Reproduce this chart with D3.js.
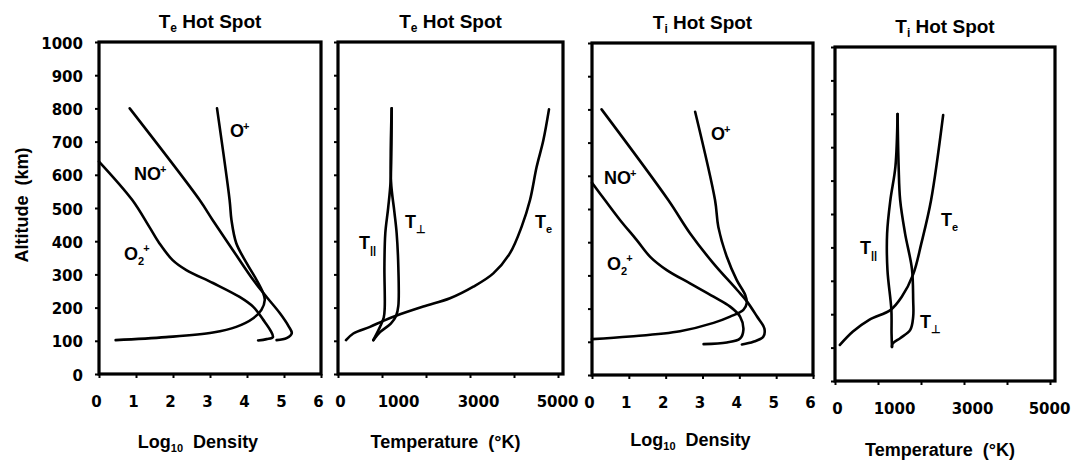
<!DOCTYPE html>
<html>
<head>
<meta charset="utf-8">
<script src="https://cdn.jsdelivr.net/npm/d3@7"></script>
<style>
  html, body { margin: 0; padding: 0; background: #fff; }
  svg { display: block; }
  text { fill: #000; }
</style>
</head>
<body>
<svg id="chart" width="1075" height="463"></svg>
<script>
// ---------------- DATA ----------------
const altTicks = [0, 100, 200, 300, 400, 500, 600, 700, 800, 900, 1000];
const densTicks = [0, 1, 2, 3, 4, 5, 6];
const tempTicks = [0, 1000, 2000, 3000, 4000, 5000];
const tempLabels = [0, 1000, 3000, 5000];

// Te hot spot: log10 density vs altitude (km)
const teNOp  = [[0.83,800],[2.72,524],[3.07,464],[3.62,373],[4.17,283],[4.53,232],[4.89,183],[5.13,143],[5.21,123],[5.07,108],[4.8,102]];
const teOp   = [[3.19,800],[3.53,524],[3.58,464],[3.71,394],[3.99,334],[4.26,283],[4.44,243],[4.48,223],[4.39,193],[4.17,168],[3.71,142],[3.08,125],[1.81,111],[0.45,102]];
const teO2p  = [[0,640],[0.9,524],[1.36,443],[1.63,394],[1.99,343],[2.36,313],[3.08,274],[3.8,232],[4.17,202],[4.44,163],[4.64,130],[4.7,111],[4.53,105],[4.3,101]];

// Te hot spot: temperatures (K) vs altitude (km)
const teTe   = [[182,102],[348,122],[727,142],[1030,160],[1333,176],[1939,203],[2545,228],[3076,263],[3530,303],[3909,364],[4174,444],[4364,524],[4515,624],[4667,704],[4795,797]];
const tePar  = [[1220,800],[1195,580],[1140,500],[1075,424],[1055,323],[1062,200],[1040,170],[955,142],[803,102]];
const tePerp = [[1220,800],[1205,580],[1280,490],[1333,424],[1371,323],[1371,205],[1320,175],[1200,152],[955,126],[803,102]];

// Ti hot spot: log10 density vs altitude (km)
const tiNOp  = [[0.26,800],[2.07,527],[2.66,427],[3.29,337],[3.94,256],[4.21,221],[4.48,176],[4.68,140],[4.65,115],[4.38,100],[4.07,92]];
const tiOp   = [[2.8,793],[3.34,527],[3.43,446],[3.66,356],[3.93,286],[4.16,241],[4.2,216],[4.11,196],[3.75,176],[3.3,157],[2.39,132],[1.03,116],[0,108]];
const tiO2p  = [[0,579],[0.35,527],[0.76,467],[1.21,407],[1.58,356],[2.03,316],[2.66,276],[3.3,236],[3.75,206],[4.02,176],[4.11,136],[4.02,110],[3.66,98],[3.03,93]];

// Ti hot spot: temperatures (K) vs altitude (km)
const tiTe   = [[2515,796],[2235,542],[2008,412],[1820,320],[1553,252],[1295,213],[795,183],[417,148],[114,108]];
const tiPar  = [[1455,799],[1405,642],[1288,542],[1212,442],[1220,332],[1311,213],[1315,143],[1325,102]];
const tiPerp = [[1455,799],[1480,642],[1515,542],[1629,442],[1790,335],[1818,243],[1818,192],[1750,153],[1523,129],[1341,112],[1325,102]];

// ---------------- LAYOUT ----------------
const svg = d3.select("#chart");
const FONT = "'DejaVu Sans', sans-serif";
const FONT2 = "'Liberation Sans', Arial, sans-serif";

const panels = [
  {x0: 99,  x1: 321,  y0: 42, y1: 374, kind: "dens", title: ["T","e"], labels: true,
   series: [
     {d: teNOp, lab: [{t:"NO",sup:"+"}], lx: 134, ly: 180},
     {d: teOp,  lab: [{t:"O",sup:"+"}],  lx: 230, ly: 137},
     {d: teO2p, lab: [{t:"O",sub:"2",sup:"+"}], lx: 124, ly: 260}
   ], xtitleY: 448},
  {x0: 338, x1: 563,  y0: 42, y1: 374, kind: "temp", title: ["T","e"],
   series: [
     {d: teTe,   lab: [{t:"T",sub:"e"}], lx: 535, ly: 228},
     {d: tePar,  lab: [{t:"T",sub:"||"}], lx: 359, ly: 249},
     {d: tePerp, lab: [{t:"T",sub:"\u22A5"}], lx: 405, ly: 228}
   ], xtitleY: 448},
  {x0: 592, x1: 813,  y0: 43, y1: 375, kind: "dens", title: ["T","i"],
   series: [
     {d: tiNOp, lab: [{t:"NO",sup:"+"}], lx: 604, ly: 184},
     {d: tiOp,  lab: [{t:"O",sup:"+"}],  lx: 711, ly: 140},
     {d: tiO2p, lab: [{t:"O",sub:"2",sup:"+"}], lx: 607, ly: 270}
   ], xtitleY: 446},
  {x0: 835, x1: 1055, y0: 47, y1: 381, kind: "temp", title: ["T","i"],
   series: [
     {d: tiTe,   lab: [{t:"T",sub:"e"}], lx: 941, ly: 226},
     {d: tiPar,  lab: [{t:"T",sub:"||"}], lx: 860, ly: 254},
     {d: tiPerp, lab: [{t:"T",sub:"\u22A5"}], lx: 920, ly: 328}
   ], xtitleY: 456}
];

const tempLabelShift = {0: 2, 1000: 16, 3000: 8, 5000: -1};
const fmt = d3.format("d");

panels.forEach(p => {
  const g = svg.append("g");
  const y = d3.scaleLinear().domain([0, 1000]).range([p.y1, p.y0]);
  const x = p.kind === "dens"
    ? d3.scaleLinear().domain([0, 6]).range([p.x0, p.x1])
    : d3.scaleLinear().domain([0, 5000]).range([p.x0, p.x1 - 5]);

  // y axis
  const yAxis = d3.axisLeft(y).tickValues(altTicks).tickSize(4).tickPadding(12)
    .tickFormat(p.labels ? fmt : "");
  const ya = g.append("g").attr("transform", `translate(${p.x0},0)`).call(yAxis);
  ya.select(".domain").remove();
  ya.selectAll("line").attr("stroke", "#000").attr("stroke-width", 2);
  ya.selectAll("text").attr("font-family", FONT).attr("font-weight", "bold").attr("font-size", 15).attr("dy", "0.4em");

  // x axis
  let xAxis;
  if (p.kind === "dens") {
    xAxis = d3.axisBottom(x).tickValues(densTicks).tickSize(4).tickPadding(18).tickFormat(fmt);
  } else {
    xAxis = d3.axisBottom(x).tickValues(tempTicks).tickSize(4).tickPadding(18)
      .tickFormat(d => tempLabels.includes(d) ? fmt(d) : "");
  }
  const xa = g.append("g").attr("transform", `translate(0,${p.y1})`).call(xAxis);
  xa.select(".domain").remove();
  xa.selectAll("line").attr("stroke", "#000").attr("stroke-width", 2);
  xa.selectAll("text").attr("font-family", FONT).attr("font-weight", "bold").attr("font-size", 15)
    .attr("dx", d => p.kind === "dens" ? -3 : (tempLabelShift[d] || 0));

  // frame
  g.append("rect").attr("x", p.x0).attr("y", p.y0)
    .attr("width", p.x1 - p.x0).attr("height", p.y1 - p.y0)
    .attr("fill", "none").attr("stroke", "#000").attr("stroke-width", 3.2);

  // curves
  const line = d3.line().x(d => x(d[0])).y(d => y(d[1])).curve(d3.curveCatmullRom.alpha(0.5));
  p.series.forEach(s => {
    g.append("path").attr("d", line(s.d)).attr("fill", "none")
      .attr("stroke", "#000").attr("stroke-width", 2.6).attr("stroke-linecap", "round").attr("stroke-linejoin", "round");
    s.lab.forEach(l => {
      const t = g.append("text").attr("x", s.lx).attr("y", s.ly)
        .attr("font-family", FONT2).attr("font-weight", "bold").attr("font-size", 18);
      t.append("tspan").text(l.t);
      if (l.sub) t.append("tspan").attr("font-size", 11).attr("dy", 5).text(l.sub);
      if (l.sup) t.append("tspan").attr("font-size", 11).attr("dy", l.sub ? -13 : -7).attr("dx", l.sub ? -1 : -1).text(l.sup);
    });
  });

  // title
  const cx = (p.x0 + p.x1) / 2;
  const tt = g.append("text").attr("x", cx).attr("y", p.y0 - 14).attr("text-anchor", "middle")
    .attr("font-family", FONT2).attr("font-weight", "bold").attr("font-size", 19);
  tt.append("tspan").text(p.title[0]);
  tt.append("tspan").attr("font-size", 12).attr("dy", 4).text(p.title[1]);
  tt.append("tspan").attr("dy", -4).text("\u00A0Hot Spot");

  // x title
  const xt = g.append("text").attr("x", cx + (p.kind === "dens" ? -12 : -5)).attr("y", p.xtitleY)
    .attr("text-anchor", "middle").attr("font-family", FONT2).attr("font-weight", "bold").attr("font-size", 18);
  if (p.kind === "dens") {
    xt.append("tspan").text("Log");
    xt.append("tspan").attr("font-size", 11).attr("dy", 4).text("10");
    xt.append("tspan").attr("dy", -4).text("\u00A0 Density");
  } else {
    xt.text("Temperature \u00A0(\u00B0K)");
  }
});

// y title
svg.append("text").attr("transform", "translate(28,205) rotate(-90)")
  .attr("text-anchor", "middle").attr("font-family", FONT2).attr("font-weight", "bold").attr("font-size", 18)
  .text("Altitude \u00A0(km)");
</script>
</body>
</html>
